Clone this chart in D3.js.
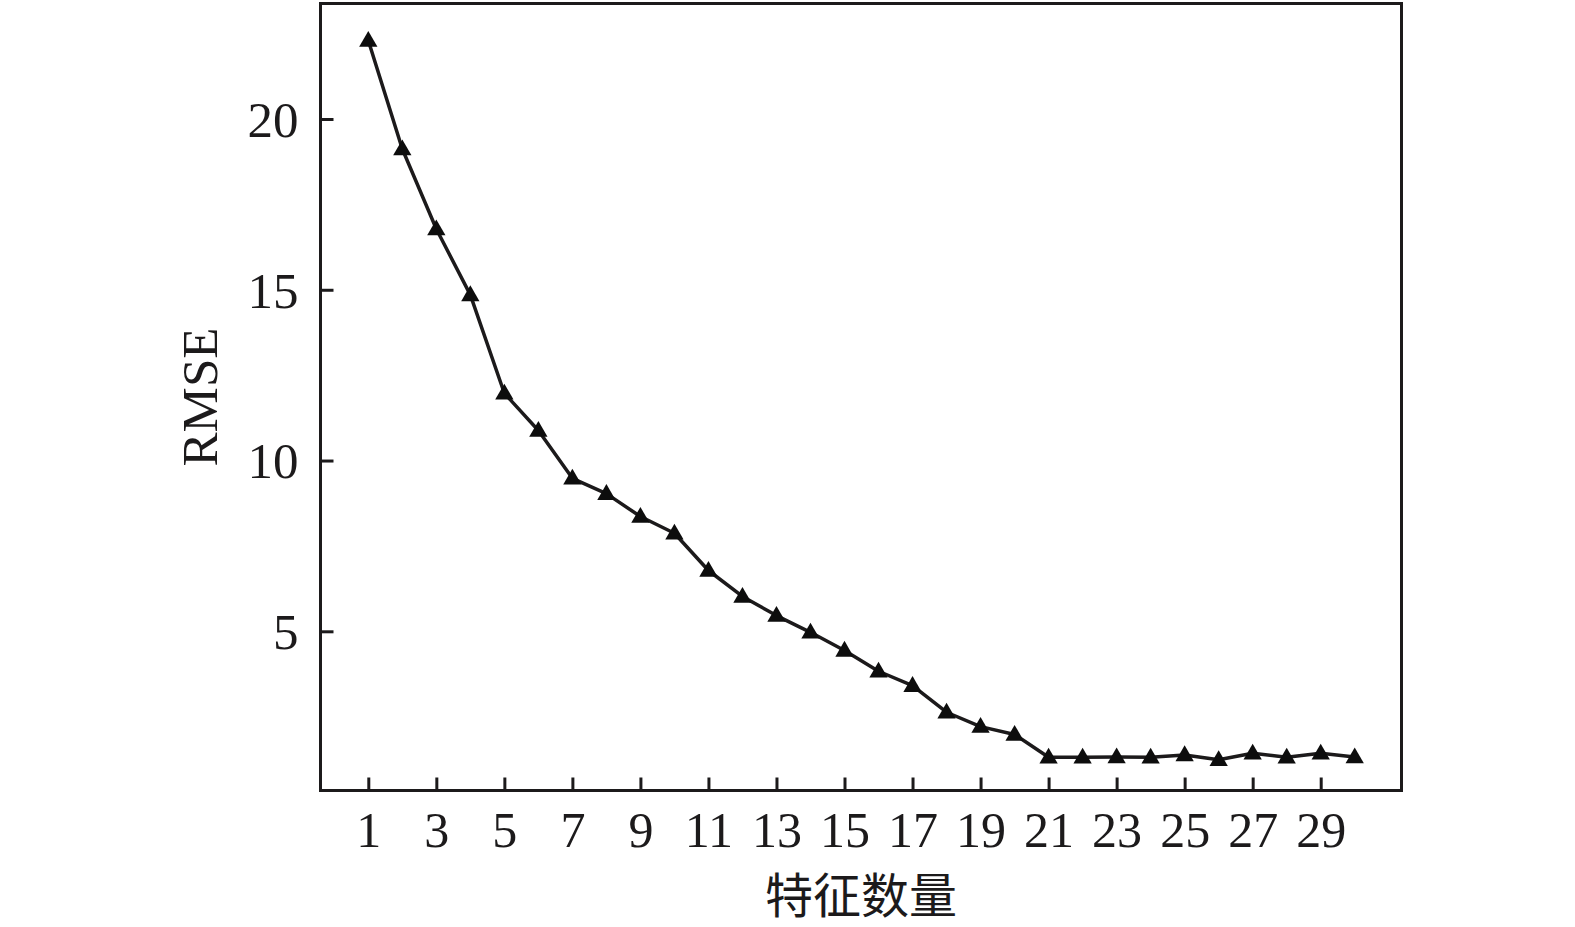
<!DOCTYPE html>
<html>
<head>
<meta charset="utf-8">
<script src="https://cdn.jsdelivr.net/npm/d3@7"></script>
<style>
  html, body { margin: 0; padding: 0; background: #ffffff; }
  svg { display: block; }
</style>
</head>
<body>
<svg id="chart" width="1575" height="927"></svg>
<script>
// ---- data ----
const featureCounts = d3.range(1, 31);
const rmseValues = [22.3, 19.12, 16.78, 14.85, 11.97, 10.88, 9.48, 9.03, 8.36, 7.87,
                    6.78, 6.02, 5.46, 4.97, 4.44, 3.83, 3.41, 2.63, 2.21, 1.98,
                    1.31, 1.31, 1.32, 1.31, 1.38, 1.24, 1.43, 1.31, 1.43, 1.32];
const xTickValues = [1, 3, 5, 7, 9, 11, 13, 15, 17, 19, 21, 23, 25, 27, 29];
const yTickValues = [5, 10, 15, 20];
const xTitle = "特征数量";
const yTitle = "RMSE";

// ---- layout ----
const frame = { left: 320.5, right: 1401.5, top: 3.5, bottom: 790.5 };
const ink = "#1c1a1b";
const serif = "'Liberation Serif', 'DejaVu Serif', serif";

const svg = d3.select("#chart");

const x = d3.scaleLinear().domain([1, 29]).range([368.3, 1320.7]);
const y = d3.scaleLinear().domain([5, 20]).range([631.3, 119]);

// frame
svg.append("rect")
  .attr("x", frame.left).attr("y", frame.top)
  .attr("width", frame.right - frame.left)
  .attr("height", frame.bottom - frame.top)
  .attr("fill", "none").attr("stroke", ink).attr("stroke-width", 3);

// x axis (ticks inward)
const xAxis = d3.axisBottom(x).tickValues(xTickValues).tickSizeInner(-13).tickSizeOuter(0).tickPadding(0).tickFormat(d3.format("d"));
const gx = svg.append("g").attr("transform", `translate(0,${frame.bottom})`).call(xAxis);
gx.select(".domain").remove();
gx.selectAll(".tick line").attr("stroke", ink).attr("stroke-width", 3);
gx.selectAll(".tick text")
  .attr("fill", ink).attr("font-family", serif).attr("font-size", 50)
  .attr("y", 56).attr("dy", 0);

// y axis (ticks inward)
const yAxis = d3.axisLeft(y).tickValues(yTickValues).tickSizeInner(-13).tickSizeOuter(0).tickPadding(0).tickFormat(d3.format("d"));
const gy = svg.append("g").attr("transform", `translate(${frame.left},0)`).call(yAxis);
gy.select(".domain").remove();
gy.selectAll(".tick line").attr("stroke", ink).attr("stroke-width", 3);
gy.selectAll(".tick text")
  .attr("fill", ink).attr("font-family", serif).attr("font-size", 51)
  .attr("x", -22).attr("dy", "0.34em").attr("text-anchor", "end");

// line
const line = d3.line().x((d, i) => x(featureCounts[i])).y(d => y(d));
svg.append("path")
  .datum(rmseValues)
  .attr("d", line)
  .attr("fill", "none").attr("stroke", ink).attr("stroke-width", 3.5)
  .attr("stroke-linejoin", "round");

// markers
const tri = d3.symbol().type(d3.symbolTriangle).size(145);
svg.append("g").selectAll("path")
  .data(rmseValues)
  .join("path")
  .attr("d", tri)
  .attr("transform", (d, i) => `translate(${x(featureCounts[i])},${y(d) + 1})`)
  .attr("fill", "#0d0d0d");

// titles
svg.append("text")
  .attr("x", (frame.left + frame.right) / 2).attr("y", 913)
  .attr("text-anchor", "middle")
  .attr("font-family", "'Noto Sans CJK SC', sans-serif").attr("font-size", 48)
  .attr("fill", ink)
  .text(xTitle);

svg.append("text")
  .attr("transform", "translate(217,397) rotate(-90)")
  .attr("text-anchor", "middle")
  .attr("font-family", serif).attr("font-size", 51)
  .attr("fill", ink)
  .text(yTitle);
</script>
</body>
</html>
